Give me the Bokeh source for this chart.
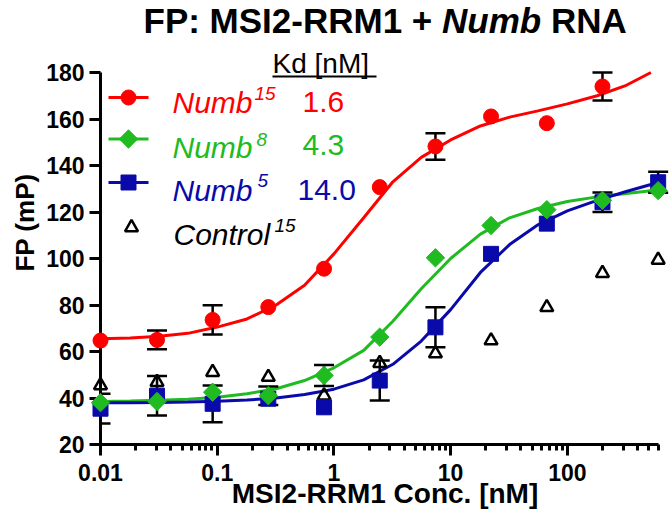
from bokeh.plotting import figure
from bokeh.models import (Range1d, LinearScale, FixedTicker, NumeralTickFormatter, Whisker, TeeHead,
                          ColumnDataSource, Label, BoxAnnotation)
from bokeh.embed import file_html
from bokeh.resources import INLINE
import math

# ---------------- data ----------------
conc = [0.01, 0.0305, 0.0914, 0.274, 0.823, 2.47, 7.41, 22.2, 66.7, 200, 600]

numb15 = [64.7, 65.0, 73.6, 79.1, 95.6, 130.7, 148.2, 161.1, 158.2, 174.0]
numb15_err = [0, 4.0, 6.3, 0, 0, 0, 5.7, 0, 0, 6.0]

numb8 = [38.0, 38.5, 42.5, 41.0, 49.7, 66.2, 100.3, 114.2, 121.0, 125.0, 129.2]
numb8_err = [0, 0, 0, 4.0, 4.5, 0, 0, 0, 0, 0, 0]

numb5 = [35.4, 41.0, 37.5, 39.7, 36.0, 47.5, 70.4, 102.0, 115.0, 124.2, 132.8]
numb5_err = [6.4, 8.5, 7.9, 0, 0, 8.6, 8.6, 0, 0, 4.2, 4.5]

control15 = [45.4, 46.8, 51.1, 49.0, 41.0, 55.0, 59.1, 64.7, 79.0, 93.7, 99.4]

# fitted curves
fit_conc = [0.01, 0.018, 0.032, 0.056, 0.1, 0.18, 0.32, 0.56, 1.0, 1.8, 3.2, 5.6,
            10, 18, 32, 56, 100, 180, 320, 520, 650]
numb15_fit = [65.5, 65.8, 66.6, 67.8, 70.5, 74.0, 80.0, 88.5, 102.0, 117.5, 133.0, 143.5,
              151.0, 157.0, 160.8, 163.5, 166.5, 170.0, 174.5, 180.0]
numb8_fit = [38.5, 38.7, 39.0, 39.5, 40.3, 41.8, 44.0, 47.5, 53.0, 60.5, 73.0, 87.0,
             100.0, 110.5, 117.5, 121.5, 124.5, 126.5, 128.0, 129.1, 129.5]
numb5_fit = [38.0, 38.0, 38.1, 38.3, 38.6, 39.1, 40.0, 41.5, 43.8, 47.8, 54.5, 64.5,
             78.0, 94.0, 106.0, 114.5, 120.5, 125.0, 128.8, 131.8, 132.6]

series_names = ["Numb", "Numb", "Numb", "Control"]
series_sup = ["15", "8", "5", "15"]
kd_values = ["1.6", "4.3", "14.0"]
x_ticks = [0.01, 0.1, 1, 10, 100]
y_ticks = [20, 40, 60, 80, 100, 120, 140, 160, 180]

RED = "#FF0000"
GREEN = "#20BB20"
BLUE = "#0A0AAA"
FONT = "Liberation Sans"

# ---------------- layout geometry (canvas pixels) ----------------
W, H = 669, 523
FL, FB = 100, 444            # frame left / bottom (axes sit here)
AX_TOP, AX_RIGHT = 72, 658   # pixel where y=180 and x=604 fall
PX_PER_DEC = (AX_RIGHT - FL) / (math.log10(604) + 2)
PX_PER_UNIT = (FB - AX_TOP) / 160.0
x_end = 10 ** ((W - FL) / PX_PER_DEC - 2)
y_end = 20 + FB / PX_PER_UNIT

# ---------------- figure ----------------
p = figure(width=W, height=H, x_axis_type="log",
           x_range=Range1d(0.01, x_end), y_range=Range1d(20, y_end),
           output_backend="svg", toolbar_location=None,
           min_border_left=FL, min_border_right=0, min_border_top=0, min_border_bottom=H - FB)
p.outline_line_color = None
p.grid.visible = False
p.background_fill_color = "white"

# pixel-space range for legend swatches
p.extra_x_ranges["px"] = Range1d(FL, W)
p.extra_y_ranges["px"] = Range1d(FB, 0)
p.extra_x_scales["px"] = LinearScale()
p.extra_y_scales["px"] = LinearScale()

# axes
for ax in (p.xaxis[0], p.yaxis[0]):
    ax.axis_line_width = 3
    ax.axis_line_color = "black"
    ax.major_tick_line_width = 3
    ax.major_tick_line_color = "black"
    ax.major_tick_in = 0
    ax.major_tick_out = 11
    ax.major_label_text_font = FONT
    ax.major_label_text_font_style = "bold"
    ax.major_label_text_font_size = "23px"
    ax.major_label_text_color = "black"
    ax.axis_label_text_font = FONT
    ax.axis_label_text_font_style = "bold"
    ax.axis_label_text_color = "black"

x_minor = [m * 10.0 ** e for e in range(-2, 3) for m in range(2, 10) if m * 10.0 ** e <= 600]
p.xaxis[0].ticker = FixedTicker(ticks=x_ticks, minor_ticks=x_minor)
p.xaxis[0].formatter = NumeralTickFormatter(format="0.[00]")
p.xaxis[0].bounds = (0.01, 604)
p.xaxis[0].minor_tick_line_width = 3
p.xaxis[0].minor_tick_line_color = "black"
p.xaxis[0].minor_tick_in = 0
p.xaxis[0].minor_tick_out = 6
p.xaxis[0].major_label_standoff = 8
p.xaxis[0].axis_label = "MSI2-RRM1 Conc. [nM]"
p.xaxis[0].axis_label_text_font_size = "28px"
p.xaxis[0].axis_label_standoff = -6

p.yaxis[0].ticker = FixedTicker(ticks=y_ticks)
p.yaxis[0].bounds = (20, 180)
p.yaxis[0].minor_tick_line_color = None
p.yaxis[0].major_label_standoff = 5
p.yaxis[0].axis_label = "FP (mP)"
p.yaxis[0].axis_label_text_font_size = "26px"
p.yaxis[0].axis_label_standoff = 3

# ---------------- fitted curves ----------------
p.line(fit_conc[:len(numb15_fit)], numb15_fit, line_color=RED, line_width=3)
p.line(fit_conc, numb8_fit, line_color=GREEN, line_width=3)
p.line(fit_conc, numb5_fit, line_color=BLUE, line_width=3)

# ---------------- error bars ----------------
def add_err(xs, ys, es):
    rows = [(x, y - e, y + e) for x, y, e in zip(xs, ys, es) if e > 0]
    src = ColumnDataSource(dict(x=[r[0] for r in rows], lo=[r[1] for r in rows], hi=[r[2] for r in rows]))
    w = Whisker(source=src, base="x", lower="lo", upper="hi", dimension="height",
                line_color="black", line_width=2.5, level="annotation",
                upper_head=TeeHead(size=20, line_width=2.5, line_color="black"),
                lower_head=TeeHead(size=20, line_width=2.5, line_color="black"))
    p.add_layout(w)

add_err(conc, numb15, numb15_err)
add_err(conc, numb8, numb8_err)
add_err(conc, numb5, numb5_err)

# ---------------- points ----------------
STYLES = [dict(marker="circle", size=15, fill_color=RED, line_color=RED),
          dict(marker="square", size=13, angle=math.pi / 4, fill_color=GREEN, line_color=GREEN),
          dict(marker="square", size=15, fill_color=BLUE, line_color=BLUE),
          dict(marker="triangle", size=13, fill_color=None, line_color="black", line_width=2.5)]

p.scatter(conc, control15, level="overlay", **STYLES[3])
p.scatter(conc, numb5, level="overlay", **STYLES[2])
p.scatter(conc, numb8, level="overlay", **STYLES[1])
p.scatter(conc[:len(numb15)], numb15, level="overlay", **STYLES[0])

# ---------------- legend ----------------
row_y = [97, 138.5, 182, 227]          # pixel rows of the legend
colors = [RED, GREEN, BLUE, "black"]
for i in range(3):
    p.line([108, 148], [row_y[i], row_y[i]], line_color=colors[i], line_width=3,
           x_range_name="px", y_range_name="px")
for i in range(4):
    p.scatter([128 if i < 3 else 131], [row_y[i]], x_range_name="px", y_range_name="px",
              level="overlay", **STYLES[i])

def lab(text, px, baseline, size, color="black", style="normal", align="left"):
    # place text so that its baseline falls at canvas row `baseline`
    mid = baseline - 0.35 * size
    p.add_layout(Label(x=px - FL, y=FB - mid, x_units="screen", y_units="screen", text=text,
                       text_font=FONT, text_font_size=f"{size}px", text_font_style=style,
                       text_color=color, text_align=align, text_baseline="middle",
                       level="overlay"))

base = [112, 157, 200, 244]
sup_x = [254, 256, 257, 274]
sup_base = [100, 146, 187, 232]
for i in range(4):
    lab(series_names[i], 172 if i < 3 else 173, base[i], 30, colors[i], "italic")
    lab(series_sup[i], sup_x[i], sup_base[i], 19, colors[i], "italic")

# Kd header and values
lab("Kd [nM]", 272, 73, 28)
p.add_layout(BoxAnnotation(left=272 - FL, right=376 - FL, top=FB - 75, bottom=FB - 77,
                           left_units="screen", right_units="screen", top_units="screen",
                           bottom_units="screen", fill_color="black", fill_alpha=1,
                           line_color=None, level="overlay"))
lab(kd_values[0], 302, 112, 30, RED)
lab(kd_values[1], 302, 155, 30, GREEN)
lab(kd_values[2], 297, 200, 30, BLUE)

# title (mixed italic)
lab("FP: MSI2-RRM1 +", 143, 32, 35, "black", "bold")
lab("Numb", 441.5, 32, 35, "black", "bold italic")
lab("RNA", 550.4, 32, 35, "black", "bold")

open("out.html", "w").write(file_html(p, INLINE))
